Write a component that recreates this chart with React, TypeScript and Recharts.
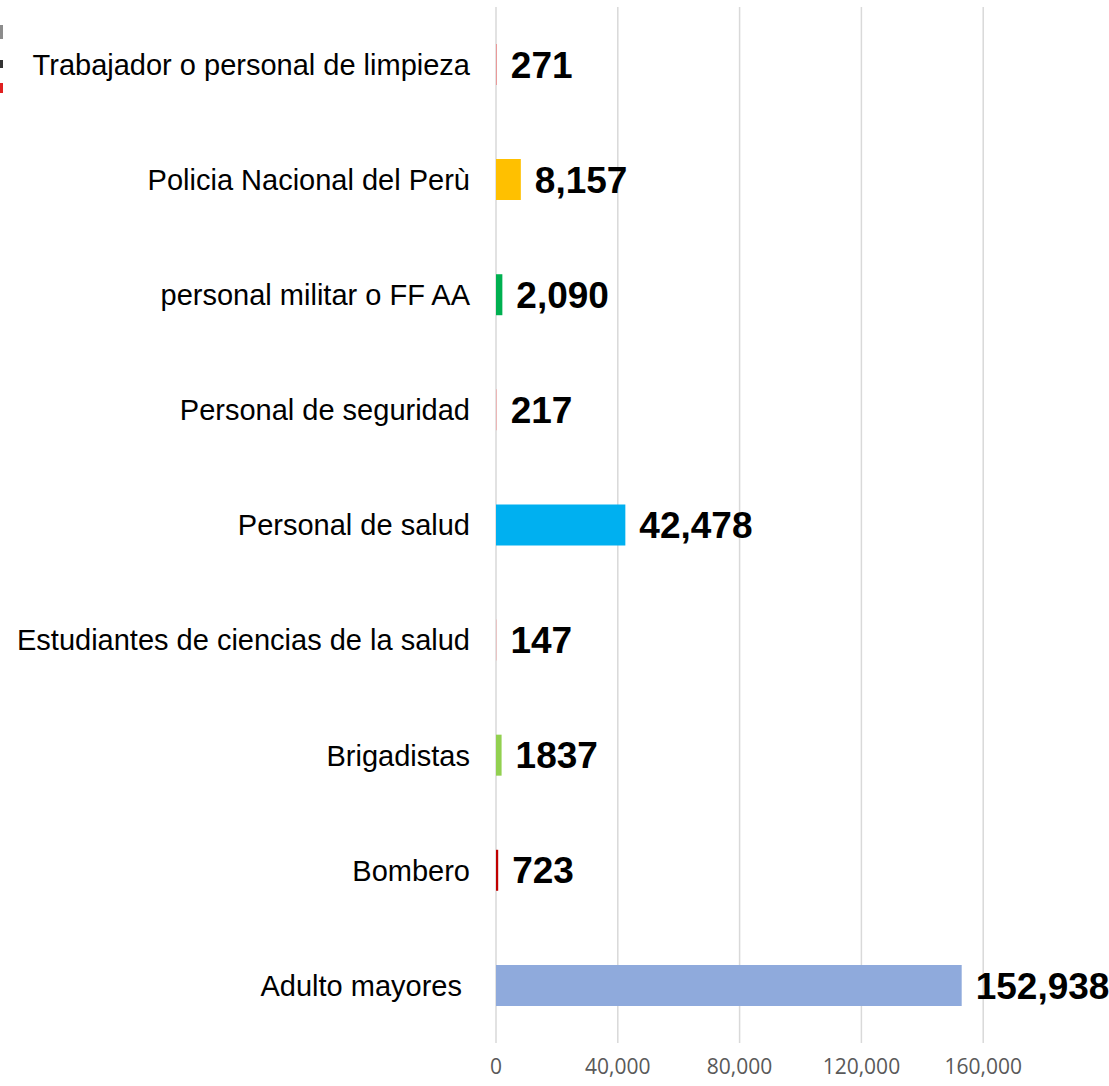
import { Bar, BarChart, CartesianGrid, Cell, LabelList, XAxis, YAxis } from "recharts";

const categories = [
  "Trabajador o personal de limpieza",
  "Policia Nacional del Perù",
  "personal militar o FF AA",
  "Personal de seguridad",
  "Personal de salud",
  "Estudiantes de ciencias de la salud",
  "Brigadistas",
  "Bombero",
  "Adulto mayores\u00a0",
];
const values = [271, 8157, 2090, 217, 42478, 147, 1837, 723, 152938];
const valueLabels = ["271", "8,157", "2,090", "217", "42,478", "147", "1837", "723", "152,938"];
const xTicks = [0, 40000, 80000, 120000, 160000];
const xMax = 200000;

const barColors = ["#EC8A8A", "#FFC000", "#00B050", "#F2A0A0", "#00B0F0", "#F2A0A0", "#92D050", "#C00000", "#8FAADC"];

const data = categories.map((name, i) => ({ name, value: values[i], label: valueLabels[i] }));

const arial = "'Liberation Sans', Arial, sans-serif";

// grid lines only at the labelled ticks (no line at the axis maximum)
const gridX = ({ xAxis, offset }: any) => {
  const scale =
    xAxis && typeof xAxis.scale === "function"
      ? xAxis.scale
      : (t: number) => offset.left + (offset.width * t) / xMax;
  return xTicks.map((t) => scale(t));
};

export default function App() {
  return (
    <div style={{ position: "absolute", left: 0, top: 0, width: 1109, height: 1086, background: "#fff" }}>
      {/* cropped logo remnant at the left edge */}
      <div style={{ position: "absolute", left: 0, top: 25, width: 3, height: 14, background: "#8c8c8c" }} />
      <div style={{ position: "absolute", left: 0, top: 60, width: 3, height: 8, background: "#333" }} />
      <div style={{ position: "absolute", left: 0, top: 83, width: 3, height: 10, background: "#E02020" }} />
      <BarChart
        width={1109}
        height={1086}
        data={data}
        layout="vertical"
        margin={{ top: 7, right: 4, bottom: 0, left: 0 }}
        barSize={41}
      >
        <CartesianGrid horizontal={false} stroke="#D9D9D9" strokeWidth={1.5} verticalCoordinatesGenerator={gridX} />
        <XAxis
          type="number"
          domain={[0, xMax]}
          ticks={xTicks}
          height={43}
          axisLine={false}
          tickLine={false}
          tickMargin={10}
          tickFormatter={(v: number) => v.toLocaleString("en-US")}
          tick={{ fill: "#595959", fontSize: 21, fontFamily: "'Open Sans', sans-serif" }}
        />
        <YAxis
          type="category"
          dataKey="name"
          width={496}
          interval={0}
          axisLine={false}
          tickLine={false}
          tickMargin={20}
          tick={{ fill: "#000", fontSize: 29, fontFamily: arial }}
        />
        <Bar dataKey="value" isAnimationActive={false}>
          {data.map((d, i) => (
            <Cell key={d.name} fill={barColors[i]} />
          ))}
          <LabelList
            dataKey="label"
            position="right"
            offset={14}
            fill="#000"
            fontSize={37}
            fontWeight="bold"
            fontFamily={arial}
          />
        </Bar>
      </BarChart>
    </div>
  );
}
